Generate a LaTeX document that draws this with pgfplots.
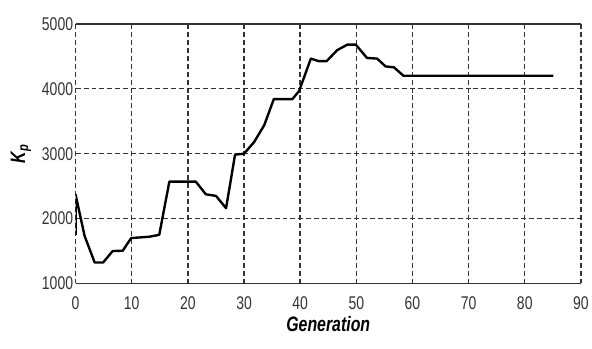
\documentclass[border=0pt]{standalone}
\usepackage{fontspec}
\setmainfont{Liberation Sans}[FakeStretch=0.76]
\usepackage{pgfplots}
\pgfplotsset{compat=1.18}
\begin{document}
\begin{tikzpicture}
\begin{axis}[
  name=ax,
  scale only axis,
  width=508pt, height=261pt,
  xmin=0, xmax=90, ymin=1000, ymax=5000,
  xtick={0,10,...,90}, ytick={1000,2000,3000,4000,5000},
  /pgf/number format/assume math mode=true,
  /pgf/number format/set thousands separator={},
  ticklabel style={font=\fontsize{18.5}{20}\selectfont, text=black!80},
  yticklabel style={xshift=1pt},
  xticklabel style={yshift=-10pt},
  xlabel={\textbf{\textit{Generation}}},
  ylabel={\textbf{\textit{K\textsubscript{p}}}},
  label style={font=\fontsize{21}{23}\selectfont},
  xlabel style={at={(axis description cs:0.5,0)}, anchor=center, yshift=-41pt},
  ylabel style={at={(axis description cs:0,0.5)}, anchor=center, yshift=55pt},
  grid=major,
  major grid style={black!80, line width=1.4pt, dash pattern=on 5pt off 3pt},
  separate axis lines,
  x axis line style={black!80, line width=1.5pt},
  y axis line style={draw=none},
  tick style={black!80, line width=0.8pt},
  major tick length=3pt,
  tick align=inside,
]
\addplot[black, line width=2.4pt, line join=round] coordinates {
(0,1750) (0,2370) (1.6,1733) (3.4,1323) (4.9,1323) (6.6,1500) (8.4,1505)
(9.9,1700) (13.1,1720) (14.9,1750) (16.7,2570) (21.4,2570) (23.2,2374)
(25.0,2350) (26.8,2160) (28.4,2985) (30.0,3000) (31.8,3180) (33.6,3440)
(35.3,3840) (38.6,3840) (39.8,3965) (41.9,4465) (43.3,4425) (44.7,4425)
(46.6,4595) (48.4,4680) (49.9,4680) (51.9,4475) (53.7,4465) (55.2,4345)
(56.7,4330) (58.4,4200) (85.1,4200)
};
\end{axis}
\path[use as bounding box] (ax.south west) ++(-76pt,-65pt) rectangle ++(592pt,350pt);
\end{tikzpicture}
\end{document}
